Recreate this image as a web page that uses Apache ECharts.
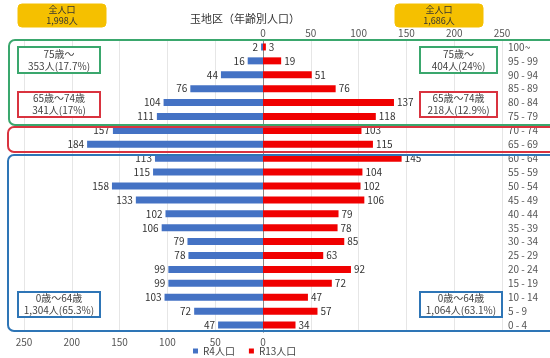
<!DOCTYPE html>
<html><head><meta charset="utf-8">
<script src="https://cdn.jsdelivr.net/npm/echarts@6/dist/echarts.min.js"></script>
<style>html,body{margin:0;padding:0;background:#fff}#c{width:550px;height:358px}</style>
</head><body><div id="c"></div>
<script>
const ages = ['100~','95 - 99','90 - 94','85 - 89','80 - 84','75 - 79','70 - 74','65 - 69','60 - 64','55 - 59','50 - 54','45 - 49','40 - 44','35 - 39','30 - 34','25 - 29','20 - 24','15 - 19','10 - 14','5 - 9','0 - 4'];
const r4 = [2,16,44,76,104,111,157,184,113,115,158,133,102,106,79,78,99,99,103,72,47];
const r13 = [3,19,51,76,137,118,103,115,145,104,102,106,79,78,85,63,92,72,47,57,34];
const seriesNames = ['R4人口','R13人口'];
const title = '玉地区（年齢別人口）';
const totalLeft = '全人口\n1,998人';
const totalRight = '全人口\n1,686人';
const notes = {
  l75: '75歳～\n353人(17.7%)', r75: '75歳～\n404人(24%)',
  l65: '65歳～74歳\n341人(17%)', r65: '65歳～74歳\n218人(12.9%)',
  l0: '0歳～64歳\n1,304人(65.3%)', r0: '0歳～64歳\n1,064人(63.1%)'
};

const FONT = '"Noto Sans CJK JP","Noto Sans",sans-serif';
const chart = echarts.init(document.getElementById('c'));

function box(x,y,w,h,color,text,fill,r,lw,tc,fs){
  return {type:'rect', shape:{x:x,y:y,width:w,height:h,r:r||0}, z:100,
    style:{fill:fill||'none', stroke:color, lineWidth:lw||2},
    textContent: text?{style:{text:text,fill:tc||'#444',font:(fs||10)+'px '+FONT,align:'center',lineHeight:(fs||10)+2}, z:101}:undefined,
    textConfig: text?{position:'inside'}:undefined};
}

chart.setOption({
  animation:false,
  textStyle:{fontFamily:FONT},
  grid:{left:24,right:48,top:40,bottom:26},
  legend:{data:seriesNames, left:188, top:341, itemWidth:5, itemHeight:5, itemGap:14,
    icon:'rect', textStyle:{fontSize:10,color:'#444',fontFamily:FONT}},
  xAxis:[
    {type:'value', position:'bottom', min:-250, max:250, interval:50,
      axisLine:{show:false}, axisTick:{show:false},
      splitLine:{show:true,lineStyle:{color:'#e6e6e6'}},
      axisLabel:{fontSize:10,color:'#555',margin:5,formatter:v=>v<=0?String(Math.abs(v)):''}},
    {type:'value', position:'top', min:-250, max:250, interval:50,
      axisLine:{show:false}, axisTick:{show:false}, splitLine:{show:false},
      axisLabel:{fontSize:10,color:'#555',margin:2,formatter:v=>v>=0?String(v):''}}
  ],
  yAxis:[
    {type:'category', data:ages, inverse:true, position:'right',
      axisLine:{show:true,lineStyle:{color:'#888'}}, axisTick:{show:false},
      axisLabel:{fontSize:10,color:'#555',margin:6,align:'left'}},
    {type:'category', data:ages, inverse:true, position:'left',
      axisLine:{show:true,lineStyle:{color:'#888'}}, axisTick:{show:false},
      axisLabel:{show:false}}
  ],
  series:[
    {name:seriesNames[0], type:'bar', stack:'p', barWidth:7, xAxisIndex:0, yAxisIndex:0,
      itemStyle:{color:'#4472C4'}, data:r4.map(v=>-v),
      label:{show:true,position:'left',distance:3,fontSize:10,color:'#333',formatter:p=>Math.abs(p.value)}},
    {name:seriesNames[1], type:'bar', stack:'p', barWidth:7, xAxisIndex:0, yAxisIndex:0,
      itemStyle:{color:'#F00000'}, data:r13,
      label:{show:true,position:'right',distance:3,fontSize:10,color:'#333'}}
  ],
  graphic:[
    {type:'text', left:190, top:13, style:{text:title,font:'11px '+FONT,fill:'#333'}},
    box(18,4,88,23,'#F5C000',totalLeft,'#F5C000',4,1,'#333',9),
    box(395,4,88,23,'#F5C000',totalRight,'#F5C000',4,1,'#333',9),
    box(9,40,560,85,'#3AA76D',null,'none',6,2),
    box(8,127,560,25,'#D9333F',null,'none',6,2),
    box(8,155,560,176,'#2E75B6',null,'none',6,2),
    box(18,47,82,26,'#3AA76D',notes.l75,'#fff',0,2),
    box(420,47,77,26,'#3AA76D',notes.r75,'#fff',0,2),
    box(18,92,82,25,'#D9333F',notes.l65,'#fff',0,2),
    box(420,92,77,25,'#D9333F',notes.r65,'#fff',0,2),
    box(18,292,82,25,'#2E75B6',notes.l0,'#fff',0,2),
    box(420,292,82,25,'#2E75B6',notes.r0,'#fff',0,2)
  ]
});
</script></body></html>
